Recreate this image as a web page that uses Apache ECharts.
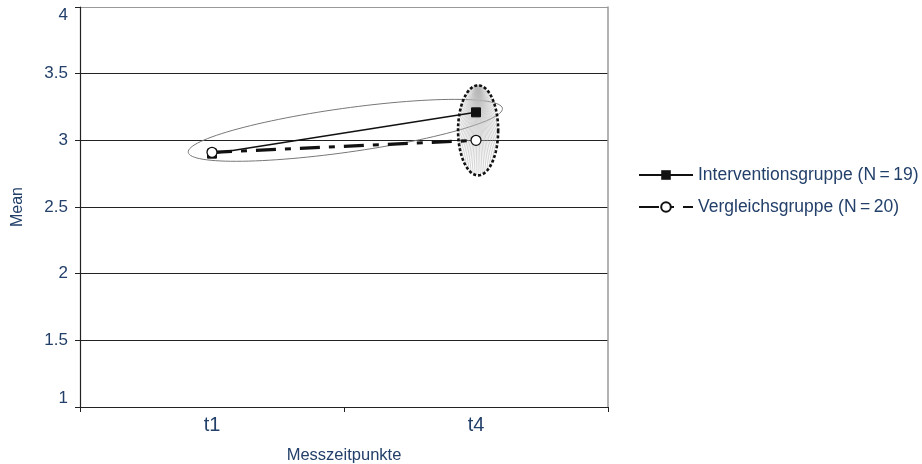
<!DOCTYPE html>
<html><head><meta charset="utf-8">
<script src="https://cdn.jsdelivr.net/npm/echarts@6/dist/echarts.min.js"></script>
<style>html,body{margin:0;padding:0;background:#fff}#c{width:922px;height:464px}</style>
</head><body><div id="c"></div>
<script>
const categories = ['t1', 't4'];
const interventionsgruppe = [2.9, 3.21];
const vergleichsgruppe = [2.91, 3.0];
const yTicks = [1, 1.5, 2, 2.5, 3, 3.5, 4];
const seriesNames = ['Interventionsgruppe (N\u2009=\u200919)', 'Vergleichsgruppe (N\u2009=\u200920)'];
// annotation ellipses in data units (category index, value)
const bigEllipse = [-0.09, 2.91, 1.10, 3.24, 0.165];      // x0,y0,x1,y1,halfWidth(value)
const smallEllipse = [1.008, 3.075, 0.076, 0.3375];       // cx,cy,halfWidth(cat),halfHeight(value)

const navy = '#23406a';
const font = 'Liberation Sans';
const chart = echarts.init(document.getElementById('c'));

function px(api, c, v) {
  const a = api.coord([0, v]), b = api.coord([1, v]);
  return [a[0] + c * (b[0] - a[0]), a[1]];
}

function renderEllipses(params, api) {
  const children = [];
  const p0 = px(api, bigEllipse[0], bigEllipse[1]);
  const p1 = px(api, bigEllipse[2], bigEllipse[3]);
  const cx = (p0[0] + p1[0]) / 2, cy = (p0[1] + p1[1]) / 2;
  const A = Math.hypot(p1[0] - p0[0], p1[1] - p0[1]) / 2;
  const phi = Math.atan2(p1[1] - p0[1], p1[0] - p0[0]);
  const B = Math.abs(api.size([0, bigEllipse[4]])[1]);
  const pts = [];
  for (let i = 0; i <= 120; i++) {
    const t = i / 120 * Math.PI * 2;
    pts.push([cx + A * Math.cos(t) * Math.cos(phi) - B * Math.sin(t) * Math.sin(phi),
              cy + A * Math.cos(t) * Math.sin(phi) + B * Math.sin(t) * Math.cos(phi)]);
  }
  children.push({type: 'polyline', shape: {points: pts}, style: {stroke: '#777', lineWidth: 1, fill: null}});
  const c = px(api, smallEllipse[0], smallEllipse[1]);
  const left = px(api, smallEllipse[0] - smallEllipse[2], smallEllipse[1]);
  const a2 = c[0] - left[0];
  const b2 = Math.abs(api.size([0, smallEllipse[3]])[1]);
  const top = [c[0], c[1] - b2];
  const n = 60;
  for (let i = 1; i < n; i++) {
    const t = -Math.PI / 2 + i / n * Math.PI * 2;
    const q = [c[0] + a2 * Math.cos(t), c[1] + b2 * Math.sin(t)];
    children.push({type: 'line', shape: {x1: top[0], y1: top[1], x2: q[0], y2: q[1]}, style: {stroke: '#b8b8b8', lineWidth: 0.6}});
  }
  const epts = [];
  for (let i = 0; i <= 100; i++) {
    const t = i / 100 * Math.PI * 2;
    epts.push([c[0] + a2 * Math.cos(t), c[1] + b2 * Math.sin(t)]);
  }
  children.push({type: 'polyline', shape: {points: epts}, style: {stroke: '#111', lineWidth: 2.6, lineDash: [3, 2], fill: null}});
  return {type: 'group', children: children};
}

chart.setOption({
  animation: false,
  textStyle: {fontFamily: font},
  grid: {left: 80, right: 314, top: 7, bottom: 57, outerBoundsMode: 'none', containLabel: false},
  legend: {
    orient: 'vertical', left: 633, top: 161, itemGap: 14, itemWidth: 54, itemHeight: 12,
    data: seriesNames,
    textStyle: {color: navy, fontSize: 17.5, fontFamily: font}
  },
  xAxis: {
    type: 'category', data: categories, boundaryGap: true,
    name: 'Messzeitpunkte', nameLocation: 'middle', nameGap: 40,
    nameTextStyle: {color: navy, fontSize: 16.5, fontFamily: font},
    axisLine: {lineStyle: {color: '#222', width: 1.2}},
    axisTick: {show: true, length: 5, lineStyle: {color: '#222'}},
    axisLabel: {color: navy, fontSize: 20, margin: 8, fontFamily: font},
    splitLine: {show: false}
  },
  yAxis: [{
    type: 'value', min: yTicks[0], max: yTicks[yTicks.length - 1], interval: 0.5,
    name: 'Mean', nameLocation: 'middle', nameGap: 54, nameRotate: 90,
    nameTextStyle: {color: navy, fontSize: 16, fontFamily: font},
    axisLine: {show: true, lineStyle: {color: '#222', width: 1.2}},
    axisTick: {show: true, length: 5, lineStyle: {color: '#222'}},
    axisLabel: {color: navy, fontSize: 17, margin: 12, fontFamily: font,
      verticalAlignMaxLabel: 'top', verticalAlignMinLabel: 'bottom'},
    splitLine: {show: true, lineStyle: {color: ['#222', '#222', '#222', '#222', '#222', '#222', '#999'], width: 1.2}}
  }, {
    type: 'value', position: 'right', min: yTicks[0], max: yTicks[yTicks.length - 1], interval: 0.5,
    axisLine: {show: true, lineStyle: {color: '#999', width: 1.5}},
    axisTick: {show: false}, axisLabel: {show: false}, splitLine: {show: false}
  }],
  series: [{
    type: 'custom', renderItem: renderEllipses, data: [[0, 3]], z: 1, silent: true, clip: false
  }, {
    name: seriesNames[0], type: 'line', data: interventionsgruppe, z: 3,
    symbol: 'rect', symbolSize: 9, showSymbol: true,
    lineStyle: {color: '#111', width: 1.6},
    itemStyle: {color: '#111', borderColor: '#111'}
  }, {
    name: seriesNames[1], type: 'line', data: vergleichsgruppe, z: 4,
    symbol: 'circle', symbolSize: 10, showSymbol: true,
    lineStyle: {color: '#111', width: 3.2, type: [20, 9, 6, 9]},
    itemStyle: {color: '#fff', borderColor: '#111', borderWidth: 1.3}
  }]
});
</script></body></html>
